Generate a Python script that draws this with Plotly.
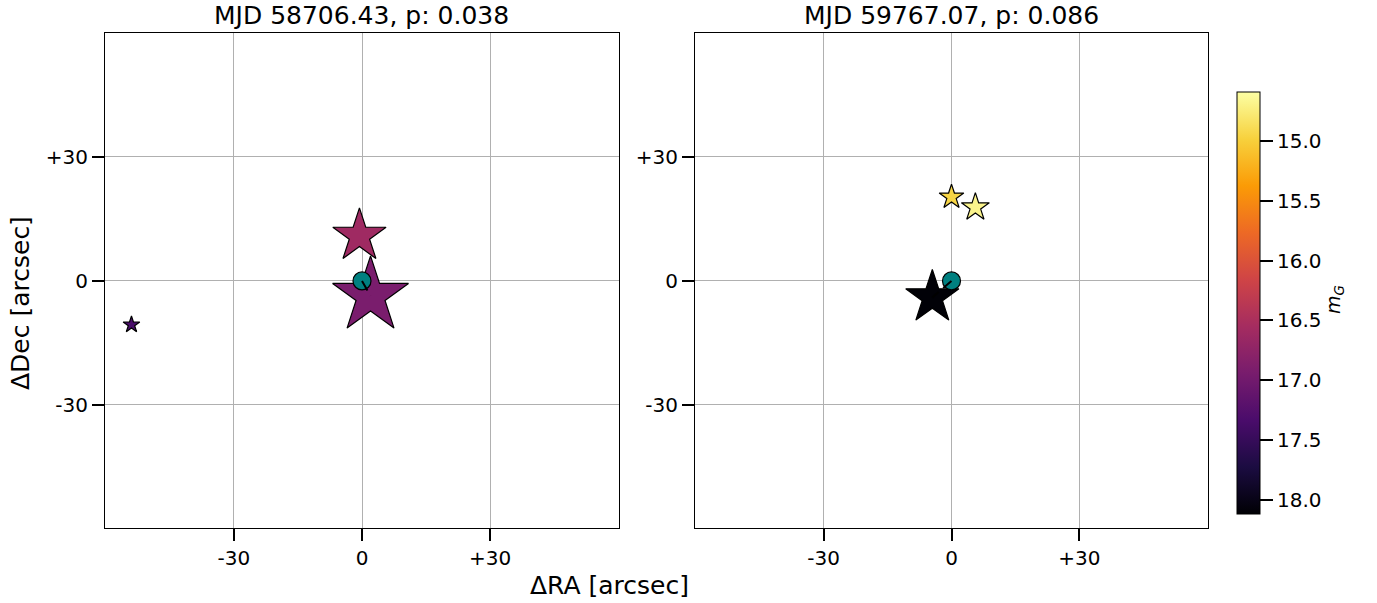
import plotly.graph_objects as go

# ---------------- data ----------------
panel_titles = ["MJD 58706.43, p: 0.038", "MJD 59767.07, p: 0.086"]

# left panel: nearby sources (offsets in arcsec, Gaia G magnitude)
left_ra = [-0.6, 2.0, -54.0]
left_dec = [10.9, -3.6, -10.6]
left_mag = [16.6, 16.93, 17.35]
left_size = [40, 57, 12.5]
left_match = 1   # index of source linked to the host

# right panel
right_ra = [-4.5, 0.0, 5.6]
right_dec = [-4.0, 20.3, 17.8]
right_mag = [18.1, 14.95, 14.68]
right_size = [40, 18.5, 21]
right_match = 0

host_ra = [0.0, 0.0]
host_dec = [0.0, 0.0]

tick_vals = [-30, 0, 30]
tick_text = ["-30", "0", "+30"]
cbar_vals = [15.0, 15.5, 16.0, 16.5, 17.0, 17.5, 18.0]
mag_min, mag_max = 14.59, 18.12

# ---------------- figure ----------------
W, H = 1377, 603
FONT = "DejaVu Sans"
fig = go.Figure()

panels = [
    (left_ra, left_dec, left_mag, left_size, left_match, "x", "y"),
    (right_ra, right_dec, right_mag, right_size, right_match, "x2", "y2"),
]

for i, (ra, dec, mag, size, match, xa, ya) in enumerate(panels):
    fig.add_trace(go.Scatter(
        x=ra, y=dec, mode="markers", xaxis=xa, yaxis=ya,
        marker=dict(symbol="star", size=size, color=[-m for m in mag],
                    coloraxis="coloraxis", opacity=1,
                    line=dict(color="black", width=1.2)),
        showlegend=False, hoverinfo="skip"))
    fig.add_trace(go.Scatter(
        x=[host_ra[i]], y=[host_dec[i]], mode="markers", xaxis=xa, yaxis=ya,
        marker=dict(symbol="circle", size=18, color="teal", opacity=1,
                    line=dict(color="black", width=1.2)),
        showlegend=False, hoverinfo="skip"))
    fig.add_trace(go.Scatter(
        x=[host_ra[i], ra[match]], y=[host_dec[i], dec[match]], mode="lines",
        xaxis=xa, yaxis=ya,
        line=dict(color="black", width=2, dash="11px,6px"),
        showlegend=False, hoverinfo="skip"))

xd1 = [105 / W, 619 / W]
xd2 = [695 / W, 1208 / W]
yd = [1 - 528 / H, 1 - 33 / H]

axis_common = dict(
    tickvals=tick_vals, ticktext=tick_text, ticks="outside", ticklen=12,
    tickwidth=2, tickcolor="black", showline=True, linecolor="black",
    linewidth=1, mirror=True, showgrid=True, gridcolor="#b0b0b0",
    gridwidth=1, zeroline=False, tickfont=dict(family=FONT, size=20, color="black"),
)

fig.update_layout(
    width=W, height=H, margin=dict(l=0, r=0, t=0, b=0),
    paper_bgcolor="white", plot_bgcolor="white",
    font=dict(family=FONT, color="black"),
    xaxis=dict(domain=xd1, range=[-60.2, 60.2], anchor="y", **axis_common),
    yaxis=dict(domain=yd, range=[-59.8, 60.0], anchor="x", **axis_common),
    xaxis2=dict(domain=xd2, range=[-60.2, 60.2], anchor="y2", **axis_common),
    yaxis2=dict(domain=yd, range=[-59.8, 60.0], anchor="x2", **axis_common),
    coloraxis=dict(
        colorscale="Inferno", cmin=-mag_max, cmax=-mag_min,
        colorbar=dict(
            x=1237 / W, xanchor="left", y=1 - 514 / H, yanchor="bottom",
            len=(514 - 92) / H, lenmode="fraction", thickness=23,
            xpad=0, ypad=0, outlinecolor="black", outlinewidth=1,
            tickvals=[-v for v in cbar_vals],
            ticktext=[f"{v:.1f}" for v in cbar_vals],
            ticks="outside", ticklen=13, tickwidth=2, tickcolor="black",
            tickfont=dict(family=FONT, size=20, color="black"),
        ),
    ),
)

ann = []
for t, xd in zip(panel_titles, [xd1, xd2]):
    ann.append(dict(text=t, x=(xd[0] + xd[1]) / 2, y=1 - 16 / H, xref="paper",
                    yref="paper", xanchor="center", yanchor="middle",
                    showarrow=False, font=dict(family=FONT, size=25, color="black")))
ann.append(dict(text="ΔRA [arcsec]", x=609 / W, y=1 - 585 / H, xref="paper",
                yref="paper", xanchor="center", yanchor="middle", showarrow=False,
                font=dict(family=FONT, size=25, color="black")))
ann.append(dict(text="ΔDec [arcsec]", x=20 / W, y=1 - 303 / H, xref="paper",
                yref="paper", xanchor="center", yanchor="middle", showarrow=False,
                textangle=-90, font=dict(family=FONT, size=25, color="black")))
ann.append(dict(text="<i>m</i><sub><i>G</i></sub>", x=1334 / W, y=1 - 300 / H,
                xref="paper", yref="paper", xanchor="center", yanchor="middle",
                showarrow=False, textangle=-90,
                font=dict(family=FONT, size=19, color="black")))
fig.update_layout(annotations=ann)

fig.write_html("out.html", config={"displayModeBar": False},
               post_script="document.body.style.margin='0';document.body.style.overflow='hidden';")
